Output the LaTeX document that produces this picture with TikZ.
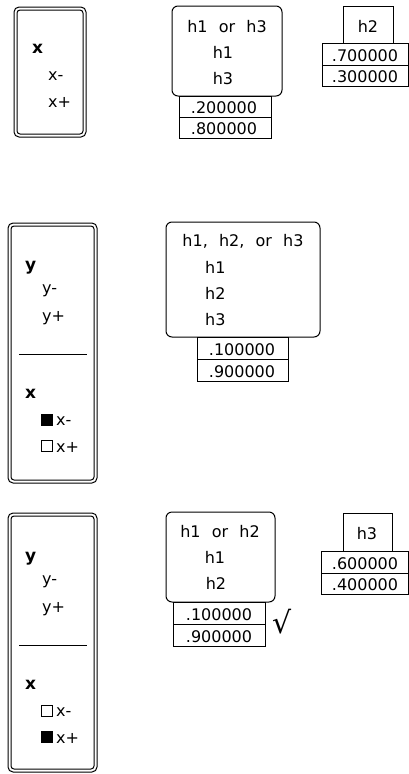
\documentclass[tikz,border=0pt]{standalone}
\usepackage{fontspec}
\setmainfont{DejaVu Sans}
\newfontfamily\widesp[WordSpace=2.2]{DejaVu Sans}
\tikzset{
  txt/.style={font=\fontsize{16}{18}\selectfont, inner sep=0pt, anchor=base},
  ttl/.style={font=\widesp\fontsize{16}{18}\selectfont, inner sep=0pt, anchor=base},
  ltxt/.style={txt, anchor=base west},
  bld/.style={font=\fontsize{17}{18}\selectfont\bfseries, inner sep=0pt, anchor=base west},
  frameout/.style={line width=1pt, rounded corners=5pt},
  framein/.style={line width=1pt, rounded corners=3pt},
  rbox/.style={line width=1pt, rounded corners=6pt},
  pbox/.style={line width=1pt},
  sqfill/.style={line width=1pt, fill=black},
  sqopen/.style={line width=1pt, fill=white},
}
\begin{document}
\begin{tikzpicture}[x=1pt,y=-1pt]
\useasboundingbox (0,0) rectangle (409,774);

% ---------- top section ----------
\draw[frameout] (14,7) rectangle (86,137);
\draw[framein] (17,10) rectangle (83,134);
\node[bld] (tx) at (32,53) {x};
\node[ltxt] (txm) at (48,80) {x-};
\node[ltxt] (txp) at (48,107) {x+};

\draw[rbox] (172,6) rectangle (282,96);
\node[ttl] (ttitle) at (227,32) {h1 or h3};
\node[txt] (th1) at (223,58) {h1};
\node[txt] (th3) at (223,84) {h3};
\draw[pbox] (179,96) rectangle (271,117);
\draw[pbox] (179,117) rectangle (271,138);
\node[txt] (tp1) at (224,113) {.200000};
\node[txt] (tp2) at (224,134) {.800000};

\draw[pbox] (343,6) rectangle (393,43);
\node[txt] (th2) at (368,32) {h2};
\draw[pbox] (322,43) rectangle (408.5,65);
\draw[pbox] (322,65) rectangle (408.5,86);
\node[txt] (th2p1) at (365,61) {.700000};
\node[txt] (th2p2) at (365,82) {.300000};

% ---------- middle section ----------
\draw[frameout] (8,223) rectangle (97,483);
\draw[framein] (11,226) rectangle (94,480);
\node[bld] (my) at (25,270) {y};
\node[ltxt] (mym) at (42,293) {y-};
\node[ltxt] (myp) at (42,321) {y+};
\draw[line width=1pt] (19,354) -- (87,354);
\node[bld] (mx) at (25,398) {x};
\draw[sqfill] (41.5,414.5) rectangle (52.5,425.5);
\node[ltxt] (mxm) at (56,425) {x-};
\draw[sqopen] (41.5,440.5) rectangle (52.5,451.5);
\node[ltxt] (mxp) at (56,452) {x+};

\draw[rbox] (166,222) rectangle (320,337);
\node[ttl] (mtitle) at (243,246) {h1, h2, or h3};
\node[ltxt] (mh1) at (205,273) {h1};
\node[ltxt] (mh2) at (205,299) {h2};
\node[ltxt] (mh3) at (205,325) {h3};
\draw[pbox] (197,337) rectangle (288,359);
\draw[pbox] (197,359) rectangle (288,381);
\node[txt] (mp1) at (242,355) {.100000};
\node[txt] (mp2) at (242,377) {.900000};

% ---------- bottom section ----------
\draw[frameout] (8,513) rectangle (97,772);
\draw[framein] (11,516) rectangle (94,769);
\node[bld] (by) at (25,561) {y};
\node[ltxt] (bym) at (42,584) {y-};
\node[ltxt] (byp) at (42,612) {y+};
\draw[line width=1pt] (19,645) -- (87,645);
\node[bld] (bx) at (25,689) {x};
\draw[sqopen] (41.5,705.5) rectangle (52.5,716.5);
\node[ltxt] (bxm) at (56,716) {x-};
\draw[sqfill] (41.5,731.5) rectangle (52.5,742.5);
\node[ltxt] (bxp) at (56,743) {x+};

\draw[rbox] (166,512) rectangle (275,602);
\node[ttl] (btitle) at (220,537) {h1 or h2};
\node[txt] (bh1) at (215,563) {h1};
\node[txt] (bh2) at (216,589) {h2};
\draw[pbox] (173,602) rectangle (265,624);
\draw[pbox] (173,624) rectangle (265,646);
\node[txt] (bp1) at (219,620) {.100000};
\node[txt] (bp2) at (219,642) {.900000};
\node[font=\fontsize{30}{32}\selectfont, inner sep=0pt] (check) at (282,622) {√};

\draw[pbox] (343,513) rectangle (392,551);
\node[txt] (bh3) at (367,539) {h3};
\draw[pbox] (321,551) rectangle (408.5,573);
\draw[pbox] (321,573) rectangle (408.5,594);
\node[txt] (bh3p1) at (365,569) {.600000};
\node[txt] (bh3p2) at (365,590) {.400000};
\end{tikzpicture}
\end{document}
